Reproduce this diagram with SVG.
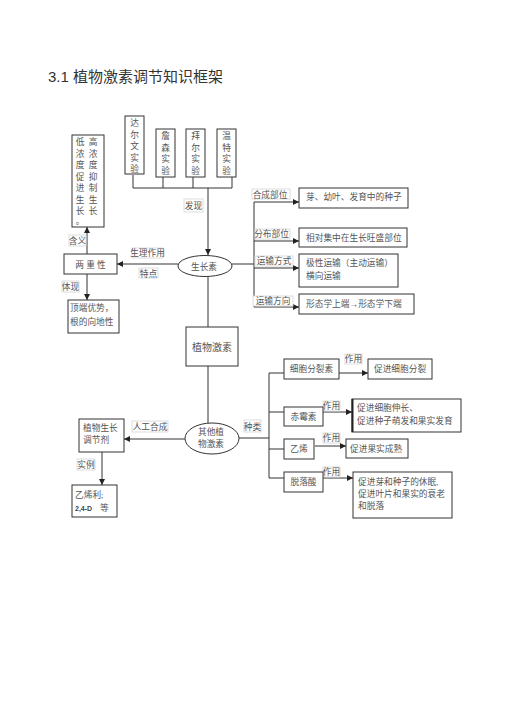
<svg xmlns="http://www.w3.org/2000/svg" width="505" height="714" viewBox="0 0 505 714">
<defs>
<marker id="ah" markerUnits="userSpaceOnUse" markerWidth="6" markerHeight="6" refX="6" refY="3" orient="auto">
<path d="M0,0 L6,3 L0,6 Z" fill="#222"/>
</marker>
<style>
.box{fill:#fff;stroke:#333;stroke-width:1}
.lbl{fill:#fff;stroke:#d4d4d4;stroke-width:0.8}
.ln{stroke:#333;stroke-width:1;fill:none}
.ar{stroke:#333;stroke-width:1;fill:none;marker-end:url(#ah)}
.t{font-family:"Liberation Serif","Noto Sans CJK SC",serif;font-size:8.7px;fill:#555}
.c{text-anchor:middle}
.title{font-family:"Liberation Sans","Noto Sans CJK SC",sans-serif;font-size:15px;fill:#333}
</style>
</defs>
<rect width="505" height="714" fill="#fff"/>
<text class="title" x="48" y="82">3.1 植物激素调节知识框架</text>

<g id="connectors">
<polyline class="ln" points="133,175 133,188 232,188 232,177"/>
<line class="ln" x1="163" y1="177" x2="163" y2="188"/>
<line class="ln" x1="193" y1="177" x2="193" y2="188"/>
<line class="ar" x1="208" y1="188" x2="208" y2="255"/>
<line class="ar" x1="87" y1="254" x2="87" y2="227"/>
<line class="ar" x1="178" y1="264" x2="117" y2="264"/>
<line class="ar" x1="87" y1="274" x2="87" y2="300"/>
<line class="ln" x1="208" y1="277" x2="208" y2="327"/>
<line class="ln" x1="208" y1="366" x2="208" y2="423"/>
<line class="ln" x1="232" y1="264" x2="254" y2="264"/>
<line class="ln" x1="254" y1="202" x2="254" y2="307"/>
<line class="ar" x1="254" y1="202" x2="299" y2="202"/>
<line class="ar" x1="254" y1="241" x2="299" y2="241"/>
<line class="ar" x1="254" y1="268" x2="299" y2="268"/>
<line class="ar" x1="254" y1="307" x2="299" y2="307"/>
<line class="ar" x1="185" y1="439" x2="124" y2="439"/>
<line class="ar" x1="102" y1="452" x2="102" y2="485"/>
<line class="ln" x1="239" y1="438" x2="269" y2="438"/>
<line class="ln" x1="269" y1="373" x2="269" y2="478"/>
<line class="ln" x1="269" y1="373" x2="284" y2="373"/>
<line class="ln" x1="269" y1="412" x2="284" y2="412"/>
<line class="ln" x1="269" y1="449" x2="284" y2="449"/>
<line class="ln" x1="269" y1="478" x2="284" y2="478"/>
<line class="ar" x1="339" y1="373" x2="368" y2="373"/>
<line class="ar" x1="323" y1="412" x2="352" y2="412"/>
<line class="ar" x1="315" y1="446" x2="346" y2="446"/>
<line class="ar" x1="323" y1="478" x2="353" y2="478"/>
<!-- labels -->
<rect class="lbl" x="184" y="199" width="19" height="13"/><text class="t c" x="193.5" y="209">发现</text>
<rect class="lbl" x="69" y="235" width="17" height="11"/><text class="t c" x="77.5" y="243.5">含义</text>
<rect class="lbl" x="132" y="248" width="31" height="10"/><text class="t c" x="147.5" y="256">生理作用</text>
<rect class="lbl" x="139" y="268" width="19" height="10"/><text class="t c" x="148.5" y="276.5">特点</text>
<rect class="lbl" x="62" y="281" width="17" height="11"/><text class="t c" x="70.5" y="289.5">体现</text>
<rect class="lbl" x="252" y="189" width="38" height="10"/><text class="t c" x="270" y="197.5">合成部位</text>
<rect class="lbl" x="255" y="229" width="35" height="10"/><text class="t c" x="271.5" y="237">分布部位</text>
<rect class="lbl" x="255" y="256" width="38" height="10"/><text class="t c" x="274" y="264">运输方式</text>
<rect class="lbl" x="253" y="296" width="40" height="10"/><text class="t c" x="273" y="304">运输方向</text>
<rect class="lbl" x="132" y="421" width="36" height="11"/><text class="t c" x="150" y="430">人工合成</text>
<rect class="lbl" x="244" y="420" width="17" height="12"/><text class="t c" x="252.5" y="429.5">种类</text>
<rect class="lbl" x="77" y="459" width="18" height="11"/><text class="t c" x="86" y="467.5">实例</text>
<rect class="lbl" x="345" y="354" width="17" height="10"/><text class="t c" x="353.5" y="362">作用</text>
<rect class="lbl" x="323" y="401" width="17" height="10"/><text class="t c" x="331.5" y="409">作用</text>
<rect class="lbl" x="323" y="433" width="17" height="10"/><text class="t c" x="331.5" y="441">作用</text>
<rect class="lbl" x="323" y="467" width="17" height="10"/><text class="t c" x="331.5" y="475">作用</text>
</g>

<g id="darwin"><rect class="box" x="125" y="116" width="19" height="58"/>
<text class="t c" x="134.5" y="126">达</text><text class="t c" x="134.5" y="137.5">尔</text><text class="t c" x="134.5" y="149">文</text><text class="t c" x="134.5" y="160.5">实</text><text class="t c" x="134.5" y="172">验</text></g>
<g id="jensen"><rect class="box" x="156" y="129" width="19" height="48"/>
<text class="t c" x="165.5" y="139">詹</text><text class="t c" x="165.5" y="150.5">森</text><text class="t c" x="165.5" y="162">实</text><text class="t c" x="165.5" y="173.5">验</text></g>
<g id="paal"><rect class="box" x="186" y="129" width="19" height="48"/>
<text class="t c" x="195.5" y="139">拜</text><text class="t c" x="195.5" y="150.5">尔</text><text class="t c" x="195.5" y="162">实</text><text class="t c" x="195.5" y="173.5">验</text></g>
<g id="went"><rect class="box" x="217" y="129" width="19" height="48"/>
<text class="t c" x="226.5" y="139">温</text><text class="t c" x="226.5" y="150.5">特</text><text class="t c" x="226.5" y="162">实</text><text class="t c" x="226.5" y="173.5">验</text></g>

<g id="dual-desc"><rect class="box" x="72" y="135" width="32" height="92"/>
<g class="t c">
<text x="80" y="145">低</text><text x="80" y="156.5">浓</text><text x="80" y="168">度</text><text x="80" y="179.5">促</text><text x="80" y="191">进</text><text x="80" y="202.5">生</text><text x="80" y="214">长</text><text x="80" y="224">。</text>
<text x="93" y="145">高</text><text x="93" y="156.5">浓</text><text x="93" y="168">度</text><text x="93" y="179.5">抑</text><text x="93" y="191">制</text><text x="93" y="202.5">生</text><text x="93" y="214">长</text>
</g></g>

<g id="duality"><rect class="box" x="64" y="254" width="53" height="20"/>
<text class="t c" x="90.5" y="267.5" xml:space="preserve">两 重 性</text></g>

<g id="apical"><rect class="box" x="68" y="300" width="51" height="33"/>
<text class="t" x="70" y="311">顶端优势，</text><text class="t" x="70" y="325">根的向地性</text></g>

<g id="auxin"><ellipse class="box" cx="205" cy="266" rx="27" ry="10.5"/>
<text class="t c" x="204" y="269.5">生长素</text></g>

<g id="hormone"><rect class="box" x="186" y="327" width="52" height="39"/>
<text class="t c" x="212" y="350.5" style="font-size:10px">植物激素</text></g>

<g id="site"><rect class="box" x="299" y="188" width="109" height="20"/>
<text class="t" x="306" y="199.5">芽、幼叶、发育中的种子</text></g>
<g id="distribution"><rect class="box" x="299" y="228" width="108" height="19"/>
<text class="t" x="306" y="240.5">相对集中在生长旺盛部位</text></g>
<g id="transport-mode"><rect class="box" x="299" y="254" width="99" height="33"/>
<text class="t" x="306" y="266">极性运输（主动运输）</text><text class="t" x="306" y="279">横向运输</text></g>
<g id="transport-dir"><rect class="box" x="299" y="294" width="115" height="20"/>
<text class="t" x="306" y="306.5">形态学上端→形态学下端</text></g>

<g id="other"><ellipse class="box" cx="212" cy="438.5" rx="27" ry="15.5"/>
<text class="t c" x="211" y="435">其他植</text><text class="t c" x="211" y="447">物激素</text></g>

<g id="regulator"><rect class="box" x="79" y="419" width="45" height="33"/>
<text class="t" x="83" y="431">植物生长</text><text class="t" x="83" y="443">调节剂</text></g>

<g id="example"><rect class="box" x="72" y="485" width="45" height="32"/>
<text class="t" x="75" y="498">乙烯利;</text>
<text x="75" y="511" style="font-family:'Liberation Sans',sans-serif;font-size:7px;font-weight:bold;fill:#444">2,4-D</text>
<text class="t" x="100" y="511">等</text></g>

<g id="cytokinin"><rect class="box" x="284" y="359" width="55" height="20"/>
<text class="t c" x="311.5" y="372">细胞分裂素</text></g>
<g id="cyto-eff"><rect class="box" x="368" y="359" width="64" height="20"/>
<text class="t c" x="400" y="372">促进细胞分裂</text></g>

<g id="gibberellin"><rect class="box" x="284" y="407" width="39" height="19"/>
<text class="t c" x="303.5" y="419.5">赤霉素</text></g>
<g id="gib-eff"><rect class="box" x="352" y="399" width="109" height="33"/>
<line x1="352.5" y1="399" x2="352.5" y2="432" stroke="#222" stroke-width="2"/>
<text class="t" x="357" y="411">促进细胞伸长、</text><text class="t" x="357" y="424">促进种子萌发和果实发育</text></g>

<g id="ethylene"><rect class="box" x="284" y="439" width="30" height="20"/>
<text class="t c" x="299" y="452">乙烯</text></g>
<g id="eth-eff"><rect class="box" x="346" y="439" width="62" height="19"/>
<text class="t" x="350" y="451.5">促进果实成熟</text></g>

<g id="aba"><rect class="box" x="284" y="472" width="39" height="20"/>
<text class="t c" x="303.5" y="485">脱落酸</text></g>
<g id="aba-eff"><rect class="box" x="353" y="472" width="99" height="46"/>
<text class="t" x="358" y="485">促进芽和种子的休眠,</text><text class="t" x="358" y="497">促进叶片和果实的衰老</text><text class="t" x="358" y="509">和脱落</text></g>
</svg>
